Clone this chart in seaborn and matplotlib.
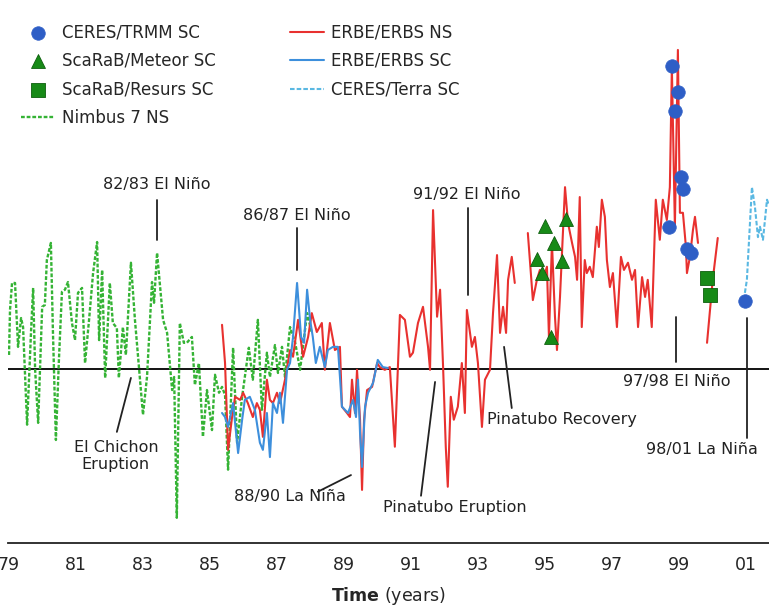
import numpy as np
import pandas as pd
import matplotlib
matplotlib.use("Agg")
import matplotlib.pyplot as plt
import seaborn as sns

# ---------------- data (tropical mean LW flux anomaly, W/m^2) ----------------
nimbus_year = [1979.00, 1979.03, 1979.09, 1979.18, 1979.27, 1979.36, 1979.42, 1979.54, 1979.66, 1979.72,
               1979.78, 1979.87, 1979.99, 1980.07, 1980.13, 1980.25, 1980.31, 1980.40, 1980.49, 1980.58,
               1980.67, 1980.76, 1980.88, 1980.97, 1981.06, 1981.18, 1981.27, 1981.39, 1981.51, 1981.63,
               1981.69, 1981.78, 1981.87, 1982.01, 1982.10, 1982.22, 1982.28, 1982.40, 1982.49, 1982.64,
               1982.76, 1983.00, 1983.12, 1983.27, 1983.33, 1983.42, 1983.60, 1983.72, 1983.87, 1983.93,
               1984.01, 1984.10, 1984.22, 1984.31, 1984.46, 1984.55, 1984.67, 1984.79, 1984.91, 1985.06,
               1985.15, 1985.27, 1985.36, 1985.45, 1985.54, 1985.69, 1985.81, 1985.96, 1986.16, 1986.28,
               1986.43, 1986.55, 1986.70, 1986.79, 1986.94, 1987.03, 1987.15, 1987.24, 1987.39, 1987.54,
               1987.69, 1987.90, 1988.04]
nimbus_val = [0.31, 1.31, 1.91, 1.91, 0.49, 1.13, 0.93, -1.24, 0.87, 1.80,
              -0.02, -1.20, 1.38, 1.42, 2.42, 2.80, 0.87, -1.58, 0.20, 1.71,
              1.76, 1.93, 1.02, 0.64, 1.69, 1.80, 0.13, 1.09, 2.13, 2.82,
              0.64, 2.20, -0.20, 1.91, 1.02, 0.91, -0.20, 0.93, 0.31, 2.36,
              1.09, -1.02, -0.18, 1.93, 1.47, 2.58, 1.09, 0.80, -0.47, -0.18,
              -3.31, 1.02, 0.58, 0.58, 0.71, -0.36, 0.13, -1.51, -0.47, -1.36,
              -0.13, -0.53, -0.40, -0.58, -2.24, 0.47, -1.64, -0.62, 0.47, -0.24,
              1.09, -0.91, 0.36, -0.18, 0.53, -0.09, 0.49, -0.18, 0.93, 0.60,
              -0.02, 1.24, 0.80]

erbs_ns_year = [1985.36, 1985.45, 1985.54, 1985.66, 1985.75, 1985.90, 1985.99, 1986.13, 1986.28, 1986.40,
                1986.49, 1986.58, 1986.70, 1986.79, 1986.88, 1987.00, 1987.09, 1987.24, 1987.39, 1987.48,
                1987.63, 1987.78, 1987.93, 1988.04, 1988.19, 1988.34, 1988.43, 1988.58, 1988.73, 1988.88,
                1988.94, 1989.09, 1989.18, 1989.24, 1989.33, 1989.39, 1989.48, 1989.54, 1989.60, 1989.69,
                1989.84, 1989.99, 1990.07, 1990.22, 1990.37, 1990.52, 1990.67, 1990.82, 1990.97, 1991.06,
                1991.21, 1991.36, 1991.51, 1991.57, 1991.66, 1991.78, 1991.87, 1991.96, 1992.04, 1992.10,
                1992.19, 1992.28, 1992.40, 1992.52, 1992.61, 1992.67, 1992.82, 1992.91, 1993.00, 1993.12,
                1993.21, 1993.36, 1993.45, 1993.57, 1993.66, 1993.75, 1993.84, 1993.90, 1994.01, 1994.10,
                1994.49, 1994.64, 1994.76, 1994.85, 1994.94, 1995.06, 1995.12, 1995.21, 1995.30, 1995.36,
                1995.45, 1995.51, 1995.60, 1995.69, 1995.81, 1995.90, 1995.96, 1996.04, 1996.10, 1996.19,
                1996.25, 1996.34, 1996.43, 1996.55, 1996.61, 1996.70, 1996.79, 1996.85, 1996.94, 1997.03,
                1997.15, 1997.27, 1997.36, 1997.48, 1997.60, 1997.69, 1997.78, 1997.90, 1997.99, 1998.07,
                1998.19, 1998.31, 1998.43, 1998.52, 1998.64, 1998.73, 1998.79, 1998.88, 1998.97, 1999.03,
                1999.12, 1999.21, 1999.24, 1999.33, 1999.42, 1999.48, 1999.57,
                1999.84, 2000.01, 2000.16]
erbs_ns_val = [0.98, 0.13, -1.80, -1.07, -0.62, -0.69, -0.53, -0.76, -1.07, -0.76,
               -0.91, -1.51, -0.24, -0.69, -0.76, -0.53, -0.76, -0.24, 0.42, 0.27,
               1.09, 0.27, 0.71, 1.24, 0.82, 1.02, -0.02, 1.02, 0.42, 0.49,
               -0.84, -0.98, -1.07, -0.24, -0.98, -0.02, -1.13, -2.69, -1.13, -0.47,
               -0.40, 0.13, 0.04, -0.02, 0.04, -1.73, 1.20, 1.09, 0.27, 0.36,
               1.02, 1.38, 0.49, -0.02, 3.53, 1.16, 1.76, 0.04, -1.73, -2.62,
               -0.62, -1.13, -0.84, 0.13, -0.98, 1.31, 0.49, 0.71, 0.13, -1.29,
               -0.24, -0.02, 1.24, 2.53, 0.80, 1.38, 0.80, 1.98, 2.49, 1.91,
               3.02, 1.53, 1.98, 2.20, 1.98, 2.27, 0.71, 2.80, 1.16, 0.42,
               1.60, 2.58, 4.04, 3.24, 2.80, 2.49, 1.98, 3.82, 0.93, 2.42,
               2.13, 2.27, 2.04, 3.16, 2.71, 3.76, 3.38, 2.42, 1.82, 2.13,
               0.93, 2.49, 2.20, 2.36, 1.98, 2.20, 0.93, 2.04, 1.60, 1.98,
               0.93, 3.76, 2.87, 3.76, 3.31, 4.04, 6.71, 3.16, 7.09, 3.47,
               3.47, 2.71, 2.13, 2.49, 3.09, 3.38, 2.80,
               0.58, 1.98, 2.91]
# record segments separated by data gaps
erbs_ns_seg = [0] * 80 + [1] * 57 + [2] * 3

erbs_sc_year = [1985.36, 1985.45, 1985.54, 1985.69, 1985.84, 1985.96, 1986.04, 1986.19, 1986.34, 1986.49,
                1986.58, 1986.70, 1986.79, 1986.88, 1987.00, 1987.09, 1987.18, 1987.30, 1987.39, 1987.48,
                1987.60, 1987.72, 1987.81, 1987.90, 1987.99, 1988.07, 1988.16, 1988.28, 1988.43, 1988.52,
                1988.67, 1988.82, 1988.94, 1989.12, 1989.27, 1989.36, 1989.42, 1989.48, 1989.54, 1989.63,
                1989.72, 1989.87, 1990.01, 1990.16, 1990.31]
erbs_sc_val = [-0.98, -1.07, -1.29, -0.76, -1.87, -1.13, -0.69, -0.62, -0.91, -1.64,
               -1.80, -0.98, -1.96, -0.76, -0.98, -0.53, -1.20, -0.02, 0.13, 0.71,
               1.91, 0.71, 0.58, 1.76, 1.09, 0.71, 0.13, 0.49, 0.04, 0.42,
               0.49, 0.49, -0.84, -0.98, -0.69, -1.07, -0.24, -1.42, -2.18, -0.84,
               -0.53, -0.31, 0.20, 0.04, 0.02]

terra_year = [2000.97, 2001.03, 2001.18, 2001.27, 2001.36, 2001.42, 2001.51, 2001.63, 2001.69]
terra_val = [1.69, 1.98, 4.04, 3.60, 2.93, 3.16, 2.87, 3.76, 3.64]

trmm_year = [1998.70, 1998.79, 1998.88, 1998.97, 1999.06, 1999.12, 1999.24, 1999.36, 2000.97]
trmm_val = [3.16, 6.73, 5.73, 6.16, 4.27, 4.00, 2.67, 2.58, 1.51]

meteor_year = [1994.76, 1994.91, 1995.00, 1995.18, 1995.27, 1995.51, 1995.63]
meteor_val = [2.44, 2.13, 3.18, 0.71, 2.80, 2.40, 3.33]

resurs_year = [1999.84, 1999.93]
resurs_val = [2.02, 1.64]

tick_years = list(range(1979, 2002))
tick_labels = ["79", "", "81", "", "83", "", "85", "", "87", "", "89", "", "91", "",
               "93", "", "95", "", "97", "", "99", "", "01"]

# ---------------- styling ----------------
sns.set_style("white")
plt.rcParams["font.family"] = ["DejaVu Sans"]

GREEN = "#35b335"
RED = "#e8312f"
BLUE = "#3d8fdc"
LIGHTBLUE = "#5ab8e2"
DOTBLUE = "#2e5ec6"
DKGREEN = "#178a17"

fig = plt.figure(figsize=(7.69, 6.06), dpi=100)
ax = fig.add_axes([8 / 769, 63 / 606, 761 / 769, 543 / 606])

nimbus = pd.DataFrame({"year": nimbus_year, "flux": nimbus_val})
erbs_ns = pd.DataFrame({"year": erbs_ns_year, "flux": erbs_ns_val, "seg": erbs_ns_seg})
erbs_sc = pd.DataFrame({"year": erbs_sc_year, "flux": erbs_sc_val})
terra = pd.DataFrame({"year": terra_year, "flux": terra_val})
trmm = pd.DataFrame({"year": trmm_year, "flux": trmm_val})
meteor = pd.DataFrame({"year": meteor_year, "flux": meteor_val})
resurs = pd.DataFrame({"year": resurs_year, "flux": resurs_val})

ax.axhline(0, color="black", lw=1.3, zorder=1)

sns.lineplot(data=nimbus, x="year", y="flux", ax=ax, color=GREEN, lw=1.7,
             linestyle=(0, (1.6, 0.8)), sort=False, estimator=None,
             label="Nimbus 7 NS", zorder=2)
sns.lineplot(data=erbs_ns, x="year", y="flux", units="seg", estimator=None, ax=ax,
             color=RED, lw=1.5, sort=False, label="ERBE/ERBS NS", zorder=3)
sns.lineplot(data=erbs_sc, x="year", y="flux", ax=ax, color=BLUE, lw=1.5,
             sort=False, estimator=None, label="ERBE/ERBS SC", zorder=4)
sns.lineplot(data=terra, x="year", y="flux", ax=ax, color=LIGHTBLUE, lw=1.5,
             linestyle=(0, (2.2, 1.0)), sort=False, estimator=None,
             label="CERES/Terra SC", zorder=4)

sns.scatterplot(data=trmm, x="year", y="flux", ax=ax, marker="o", s=95,
                color=DOTBLUE, edgecolor=DOTBLUE, linewidth=0.5,
                label="CERES/TRMM SC", zorder=6)
sns.scatterplot(data=meteor, x="year", y="flux", ax=ax, marker="^", s=100,
                color=DKGREEN, edgecolor="#0d5e0d", linewidth=0.6,
                label="ScaRaB/Meteor SC", zorder=6)
sns.scatterplot(data=resurs, x="year", y="flux", ax=ax, marker="s", s=105,
                color=DKGREEN, edgecolor="#0d5e0d", linewidth=0.6,
                label="ScaRaB/Resurs SC", zorder=6)

# ---------------- axes ----------------
ax.set_xlim(1978.97, 2001.69)
ax.set_ylim(-3.87, 8.2)
ax.set_xticks(tick_years)
ax.set_xticklabels(tick_labels, fontsize=12.5)
ax.set_yticks([-2, 0, 2, 4, 6, 8])
ax.set_yticklabels([])
ax.tick_params(axis="x", direction="in", length=13.5, width=1.0, color="#222222", pad=9)
ax.tick_params(axis="y", direction="in", length=4.5, width=1.2, color="#333333")
for side in ("top", "right", "left"):
    ax.spines[side].set_visible(False)
ax.spines["bottom"].set_color("#222222")
ax.spines["bottom"].set_linewidth(1.3)
ax.set_xlabel(r"$\mathbf{Time}$ (years)", fontsize=12.5, labelpad=8)
ax.set_ylabel("")

# ---------------- legend ----------------
handles, labels = ax.get_legend_handles_labels()
lookup = dict(zip(labels, handles))
order = ["CERES/TRMM SC", "ScaRaB/Meteor SC", "ScaRaB/Resurs SC", "Nimbus 7 NS",
         "ERBE/ERBS NS", "ERBE/ERBS SC", "CERES/Terra SC"]
ax.legend([lookup[k] for k in order], order, ncol=2, frameon=False, fontsize=12,
          loc="upper left", bbox_to_anchor=(-0.013, 1.0), handlelength=2.0,
          handletextpad=0.45, columnspacing=4.45, labelspacing=0.63, borderaxespad=1.0)

# ---------------- event annotations ----------------
ann_kw = dict(fontsize=11.5, ha="center", va="center", color="#222222")
line_kw = dict(color="#222222", lw=1.3)

ax.text(1983.42, 4.09, "82/83 El Niño", **ann_kw)
ax.plot([1983.42, 1983.42], [3.76, 2.87], **line_kw)
ax.text(1987.60, 3.42, "86/87 El Niño", **ann_kw)
ax.plot([1987.60, 1987.60], [3.13, 2.20], **line_kw)
ax.text(1992.67, 3.87, "91/92 El Niño", **ann_kw)
ax.plot([1992.70, 1992.70], [3.58, 1.64], **line_kw)
ax.text(1982.19, -1.93, "El Chichon\nEruption", linespacing=1.15, **ann_kw)
ax.plot([1982.64, 1982.22], [-0.20, -1.40], **line_kw)
ax.text(1987.39, -2.84, "88/90 La Niña", **ann_kw)
ax.plot([1989.21, 1988.22], [-2.36, -2.73], **line_kw)
ax.text(1992.31, -3.09, "Pinatubo Eruption", **ann_kw)
ax.plot([1991.72, 1991.30], [-0.29, -2.82], **line_kw)
ax.text(1995.51, -1.13, "Pinatubo Recovery", **ann_kw)
ax.plot([1993.78, 1994.01], [0.49, -0.87], **line_kw)
ax.text(1998.94, -0.29, "97/98 El Niño", **ann_kw)
ax.plot([1998.91, 1998.91], [1.16, 0.16], **line_kw)
ax.text(1999.69, -1.80, "98/01 La Niña", **ann_kw)
ax.plot([2001.03, 2001.03], [1.13, -1.53], **line_kw)

fig.savefig("out.png", dpi=100)
